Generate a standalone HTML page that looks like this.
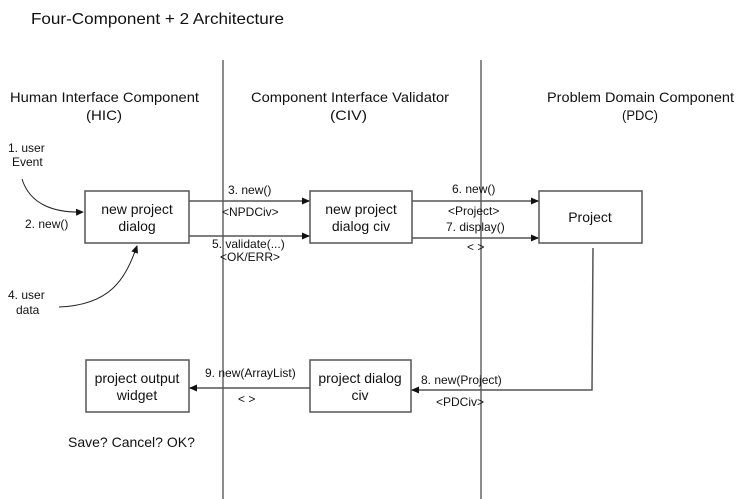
<!DOCTYPE html>
<html><head><meta charset="utf-8"><style>
html,body{margin:0;padding:0;background:#fff;}
svg{display:block;font-family:"Liberation Sans",Arial,sans-serif;}
text{fill:#111;}
</style></head><body>
<svg width="745" height="499" viewBox="0 0 745 499" xmlns="http://www.w3.org/2000/svg">
<defs>
<marker id="a" markerWidth="8" markerHeight="8" refX="7" refY="4" orient="auto" markerUnits="userSpaceOnUse">
<path d="M0,0.5 L8,4 L0,7.5 Z" fill="#111"/></marker>
</defs>
<text x="31" y="24" font-size="16" textLength="253" lengthAdjust="spacingAndGlyphs">Four-Component + 2 Architecture</text>
<line x1="223" y1="60" x2="223" y2="499" stroke="#666" stroke-width="1.5"/>
<line x1="481" y1="60" x2="481" y2="499" stroke="#666" stroke-width="1.5"/>
<g font-size="14">
<text x="10" y="102" textLength="189" lengthAdjust="spacingAndGlyphs">Human Interface Component</text>
<text x="86" y="120" textLength="36" lengthAdjust="spacingAndGlyphs">(HIC)</text>
<text x="251" y="102" textLength="198" lengthAdjust="spacingAndGlyphs">Component Interface Validator</text>
<text x="330" y="120" textLength="37" lengthAdjust="spacingAndGlyphs">(CIV)</text>
<text x="547" y="102" textLength="187" lengthAdjust="spacingAndGlyphs">Problem Domain Component</text>
<text x="622" y="120" textLength="36" lengthAdjust="spacingAndGlyphs">(PDC)</text>
</g>
<g fill="#fff" stroke="#555" stroke-width="1.5">
<rect x="85" y="191" width="104" height="52"/>
<rect x="310" y="191" width="102" height="52"/>
<rect x="539" y="191" width="103" height="52"/>
<rect x="86" y="360" width="103" height="52"/>
<rect x="310" y="360" width="101" height="52"/>
</g>
<g font-size="14" text-anchor="middle">
<text x="137" y="214">new project</text><text x="137" y="231">dialog</text>
<text x="361" y="214">new project</text><text x="361" y="231">dialog civ</text>
<text x="590" y="222">Project</text>
<text x="137" y="383">project output</text><text x="137" y="400">widget</text>
<text x="360" y="383">project dialog</text><text x="360" y="400">civ</text>
</g>
<g stroke="#555" stroke-width="1.5" fill="none">
<line x1="189" y1="201" x2="309" y2="201" marker-end="url(#a)"/>
<line x1="189" y1="236" x2="309" y2="236" marker-end="url(#a)"/>
<line x1="412" y1="201" x2="538" y2="201" marker-end="url(#a)"/>
<line x1="412" y1="238" x2="538" y2="238" marker-end="url(#a)"/>
<polyline points="593,248 592,390 412,390" marker-end="url(#a)"/>
<line x1="310" y1="388" x2="190" y2="388" marker-end="url(#a)"/>
<path d="M22,179 C30,205 55,213 83,212" stroke="#222" stroke-width="1" marker-end="url(#a)"/>
<path d="M59,307 C110,305 125,280 137,246" stroke="#222" stroke-width="1" marker-end="url(#a)"/>
</g>
<g font-size="12">
<text x="8" y="152">1. user</text>
<text x="12" y="166">Event</text>
<text x="25" y="228">2. new()</text>
<text x="8" y="299">4. user</text>
<text x="16" y="314">data</text>
<text x="228" y="194">3. new()</text>
<text x="222" y="216">&lt;NPDCiv&gt;</text>
<text x="212" y="248">5. validate(...)</text>
<text x="220" y="261">&lt;OK/ERR&gt;</text>
<text x="452" y="193">6. new()</text>
<text x="448" y="215">&lt;Project&gt;</text>
<text x="446" y="231">7. display()</text>
<text x="467" y="251">&lt; &gt;</text>
<text x="421" y="384">8. new(Project)</text>
<text x="436" y="406">&lt;PDCiv&gt;</text>
<text x="205" y="377">9. new(ArrayList)</text>
<text x="238" y="403">&lt; &gt;</text>
<text x="68" y="447" font-size="14">Save? Cancel? OK?</text>
</g>
</svg>
</body></html>
